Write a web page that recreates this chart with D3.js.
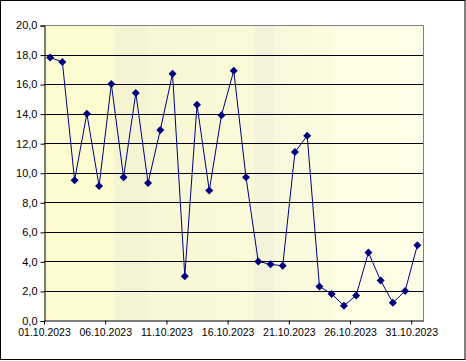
<!DOCTYPE html>
<html><head><meta charset="utf-8">
<script src="https://cdn.jsdelivr.net/npm/d3@7"></script>
<style>body{margin:0;background:#fff}svg{display:block}text{font-family:"Liberation Sans",Arial,sans-serif;font-size:11px;fill:#000}</style>
</head><body><svg id="c" width="466" height="361"></svg>
<script>
const days = d3.range(1, 32).map(d => (d < 10 ? "0" + d : "" + d) + ".10.2023");
const values = [17.8,17.5,9.5,14.0,9.1,16.0,9.7,15.4,9.3,12.9,16.7,3.0,14.6,8.8,13.9,16.9,9.7,4.0,3.8,3.7,11.4,12.5,2.3,1.8,1.0,1.7,4.6,2.7,1.2,2.0,5.1];
const yTicks = [0,2,4,6,8,10,12,14,16,18,20];
const xTickLabels = ["01.10.2023","06.10.2023","11.10.2023","16.10.2023","21.10.2023","26.10.2023","31.10.2023"];

const svg = d3.select("#c");
const L = 44, T = 25, R = 423.5, B = 320.5;
svg.append("rect").attr("x",0.5).attr("y",0.5).attr("width",464.5).attr("height",359).attr("fill","#fff").attr("stroke","#000");

const defs = svg.append("defs");
const g = defs.append("linearGradient").attr("id","bg").attr("x1","0").attr("x2","1").attr("y1","0").attr("y2","0");
const stops = [[0,"#fcfcd0"],[0.184,"#fcfcd0"],[0.185,"#f4f4d2"],[0.27,"#f4f4d2"],[0.275,"#f7f7d6"],[0.55,"#fafad8"],[0.555,"#f3f3dc"],[0.605,"#f3f3dc"],[0.61,"#f8f8dc"],[0.76,"#fbfbe0"],[0.77,"#fefee6"],[1,"#fefee8"]];
stops.forEach(s => g.append("stop").attr("offset",s[0]).attr("stop-color",s[1]));
svg.append("rect").attr("x",L).attr("y",T).attr("width",R-L).attr("height",B-T).attr("fill","url(#bg)");

const x = d3.scaleBand().domain(days).range([L, R]);
const y = d3.scaleLinear().domain([0, 20]).range([B, T]);

svg.append("g").selectAll("line").data(yTicks.filter(v => v > 0 && v < 20)).join("line")
  .attr("x1",L).attr("x2",R).attr("y1",d=>Math.round(y(d))+0.5).attr("y2",d=>Math.round(y(d))+0.5)
  .attr("stroke","#000").attr("stroke-width",1);
svg.append("path").attr("d",`M${L},${T+0.5}H${R}V${B}`).attr("fill","none").attr("stroke","#808080");

const yAxis = d3.axisLeft(y).tickValues(yTicks).tickSize(4).tickPadding(3).tickFormat(d => d3.format(".1f")(d).replace(".", ","));
const ya = svg.append("g").attr("transform",`translate(${L+0.5},0.5)`).call(yAxis);
ya.select(".domain").attr("stroke","#000");
ya.selectAll(".tick line").attr("stroke","#000");
ya.selectAll("text").style("font-size","11px").attr("font-family",null).attr("dy","0.3em");

const xAxis = d3.axisBottom(x).tickValues(xTickLabels).tickSize(4).tickPadding(4).tickSizeOuter(0);
const xa = svg.append("g").attr("transform",`translate(0,${B})`).call(xAxis);
xa.selectAll(".tick").attr("transform", d => `translate(${x(d)+0.5},0)`);
xa.select(".domain").attr("stroke","#000");
xa.selectAll(".tick line").attr("stroke","#000");
xa.selectAll("text").style("font-size","10.5px").attr("font-family",null);

const cx = d => x(d) + x.bandwidth()/2;
const line = d3.line().x((d,i) => cx(days[i])).y(d => y(d));
svg.append("path").datum(values).attr("d",line).attr("fill","none").attr("stroke","#000080").attr("stroke-width",1);
svg.append("g").selectAll("path").data(values).join("path")
  .attr("transform",(d,i)=>`translate(${cx(days[i])},${y(d)})`)
  .attr("d","M0,-4L4,0L0,4L-4,0Z").attr("fill","#000080");
</script></body></html>
